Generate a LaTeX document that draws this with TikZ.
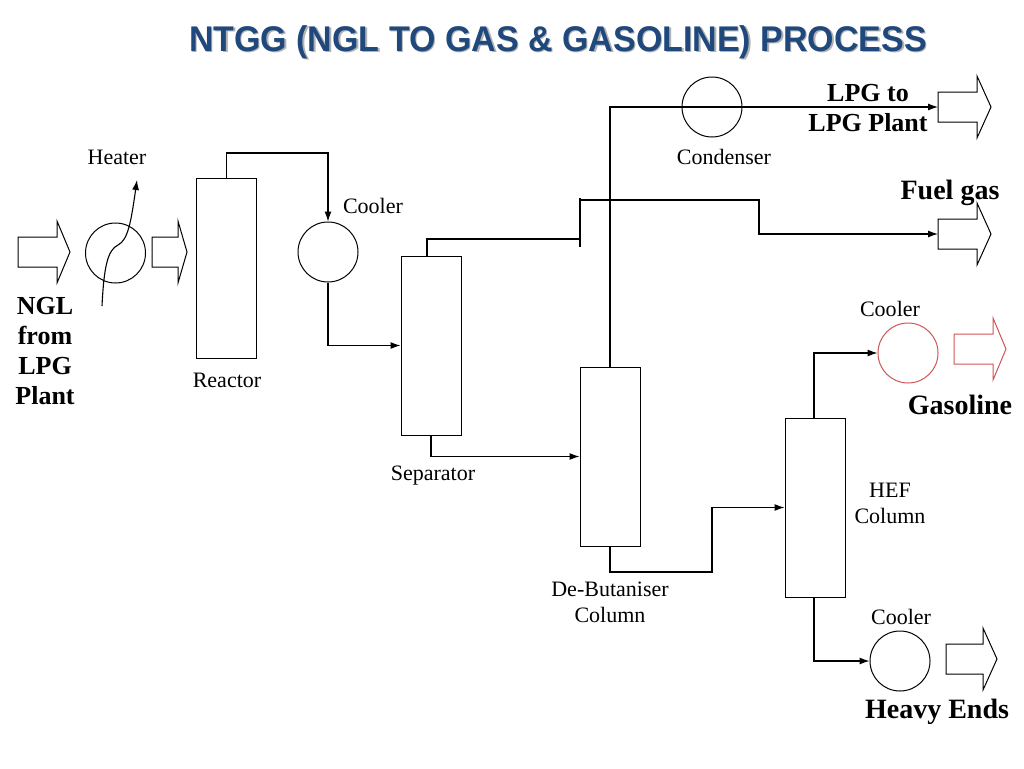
\documentclass[tikz,border=0pt]{standalone}
\usepackage{fontspec}
\setmainfont{Liberation Serif}
\newfontfamily\titlefont{Liberation Sans}
\usetikzlibrary{arrows.meta,calc}
\definecolor{titleblue}{RGB}{31,73,125}
\definecolor{gasred}{RGB}{205,85,85}
\newcommand\blockar[5][black]{%
  \draw[line width=1pt,#1] (#2,#3-15) -- (#4,#3-15) -- (#4,#3-31) -- (#5,#3) -- (#4,#3+31) -- (#4,#3+15) -- (#2,#3+15) -- cycle;}
\tikzset{
  unit/.style={draw, line width=1pt, inner sep=0pt, minimum width=60pt, minimum height=179pt},
  ring/.style={draw, circle, line width=1pt, inner sep=0pt, minimum size=60pt},
  flow/.style={line width=1.1pt, -{Latex[length=10pt,width=7pt]}},
  pipe/.style={line width=1.1pt},
  lbl/.style={font=\fontsize{22}{26}\selectfont, inner sep=0pt, align=center},
  blbl/.style={font=\fontsize{26}{30}\selectfont\bfseries, inner sep=0pt, align=center},
  bigl/.style={font=\fontsize{28}{32}\selectfont\bfseries, inner sep=0pt, align=center},
  ttl/.style={font=\titlefont\bfseries\fontsize{34}{38}\selectfont, inner sep=0pt},
}
\begin{document}
\begin{tikzpicture}[x=1pt,y=-1pt]
\useasboundingbox (0,0) rectangle (1024,768);
\fill[white] (0,0) rectangle (1024,768);

% title
\node[ttl, text=gray!60] (titleshadow) at (559.5,43.5) {\scalebox{1.0}[1.05]{NTGG (NGL TO GAS \& GASOLINE) PROCESS}};
\node[ttl, text=titleblue] (title) at (558,42) {\scalebox{1.0}[1.05]{NTGG (NGL TO GAS \& GASOLINE) PROCESS}};

% equipment
\node[ring] (heater) at (115.5,253) {};
\node[unit, minimum height=180pt] (reactor) at (226.5,268.5) {};
\node[ring] (cool1) at (328,252) {};
\node[unit] (sep) at (431,345.5) {};
\node[unit] (debut) at (610,456.5) {};
\node[ring] (cond) at (712,107) {};
\node[unit] (hef) at (815,507.5) {};
\node[ring, draw=gasred] (cool2) at (908,353) {};
\node[ring] (cool3) at (900,661) {};

% block arrows
\blockar{18}{252}{57}{70}
\blockar{152}{252}{178}{187}
\blockar{938}{107}{977}{991}
\blockar{938}{234}{977}{991}
\blockar[gasred]{954}{349}{993}{1006}
\blockar{946}{659}{983}{997}
\coordinate (lpgin) at (938,107);
\coordinate (fuelin) at (938,234);

% heater coil
\coordinate (hin) at (102,306);
\coordinate (hout) at (137,180);
\draw[flow] (hin) .. controls (104,265) and (108,250) .. (118,245) .. controls (128,240) and (131,222) .. (hout);

% connectors
\draw[flow] (reactor.north) -- (226.5,153) -| (cool1.north);
\draw[flow] (cool1.south) |- (sep.west);
\coordinate (tee) at (580,239);
\draw[pipe] ([xshift=-4pt]sep.north) |- (tee);
\coordinate (teetop) at (580,198);
\coordinate (teebot) at (580,247);
\draw[pipe] (teetop) -- (teebot);
\coordinate (fuelstart) at (580,200);
\draw[flow] (fuelstart) -| (759,234) -- (fuelin);
\draw[flow] (sep.south) |- (debut.west);
\draw[flow] (debut.north) |- (lpgin);
\draw[flow] (debut.south) |- (712,572) |- (hef.west);
\draw[flow] ([xshift=-1pt]hef.north) |- (cool2.west);
\draw[flow] ([xshift=-1pt]hef.south) |- (cool3.west);

% labels
\node[lbl] (lheater) at (117,157) {Heater};
\node[lbl] (lreactor) at (227,380) {Reactor};
\node[lbl] (lcool1) at (373,206) {Cooler};
\node[lbl] (lsep) at (433,476) {Separator};
\node[lbl] (lcond) at (724,157) {Condenser};
\node[lbl] (ldebut) at (610,602) {De-Butaniser\\Column};
\node[lbl] (lhef) at (890,503) {HEF\\Column};
\node[lbl] (lcool2) at (890,309) {Cooler};
\node[lbl] (lcool3) at (901,617) {Cooler};
\node[blbl] (lngl) at (45,351) {NGL\\from\\LPG\\Plant};
\node[blbl] (llpg) at (868,108) {LPG to\\LPG Plant};
\node[bigl] (lfuel) at (950,193) {Fuel gas};
\node[bigl] (lgas) at (960,405) {Gasoline};
\node[bigl] (lheavy) at (937,712) {Heavy Ends};
\end{tikzpicture}
\end{document}
